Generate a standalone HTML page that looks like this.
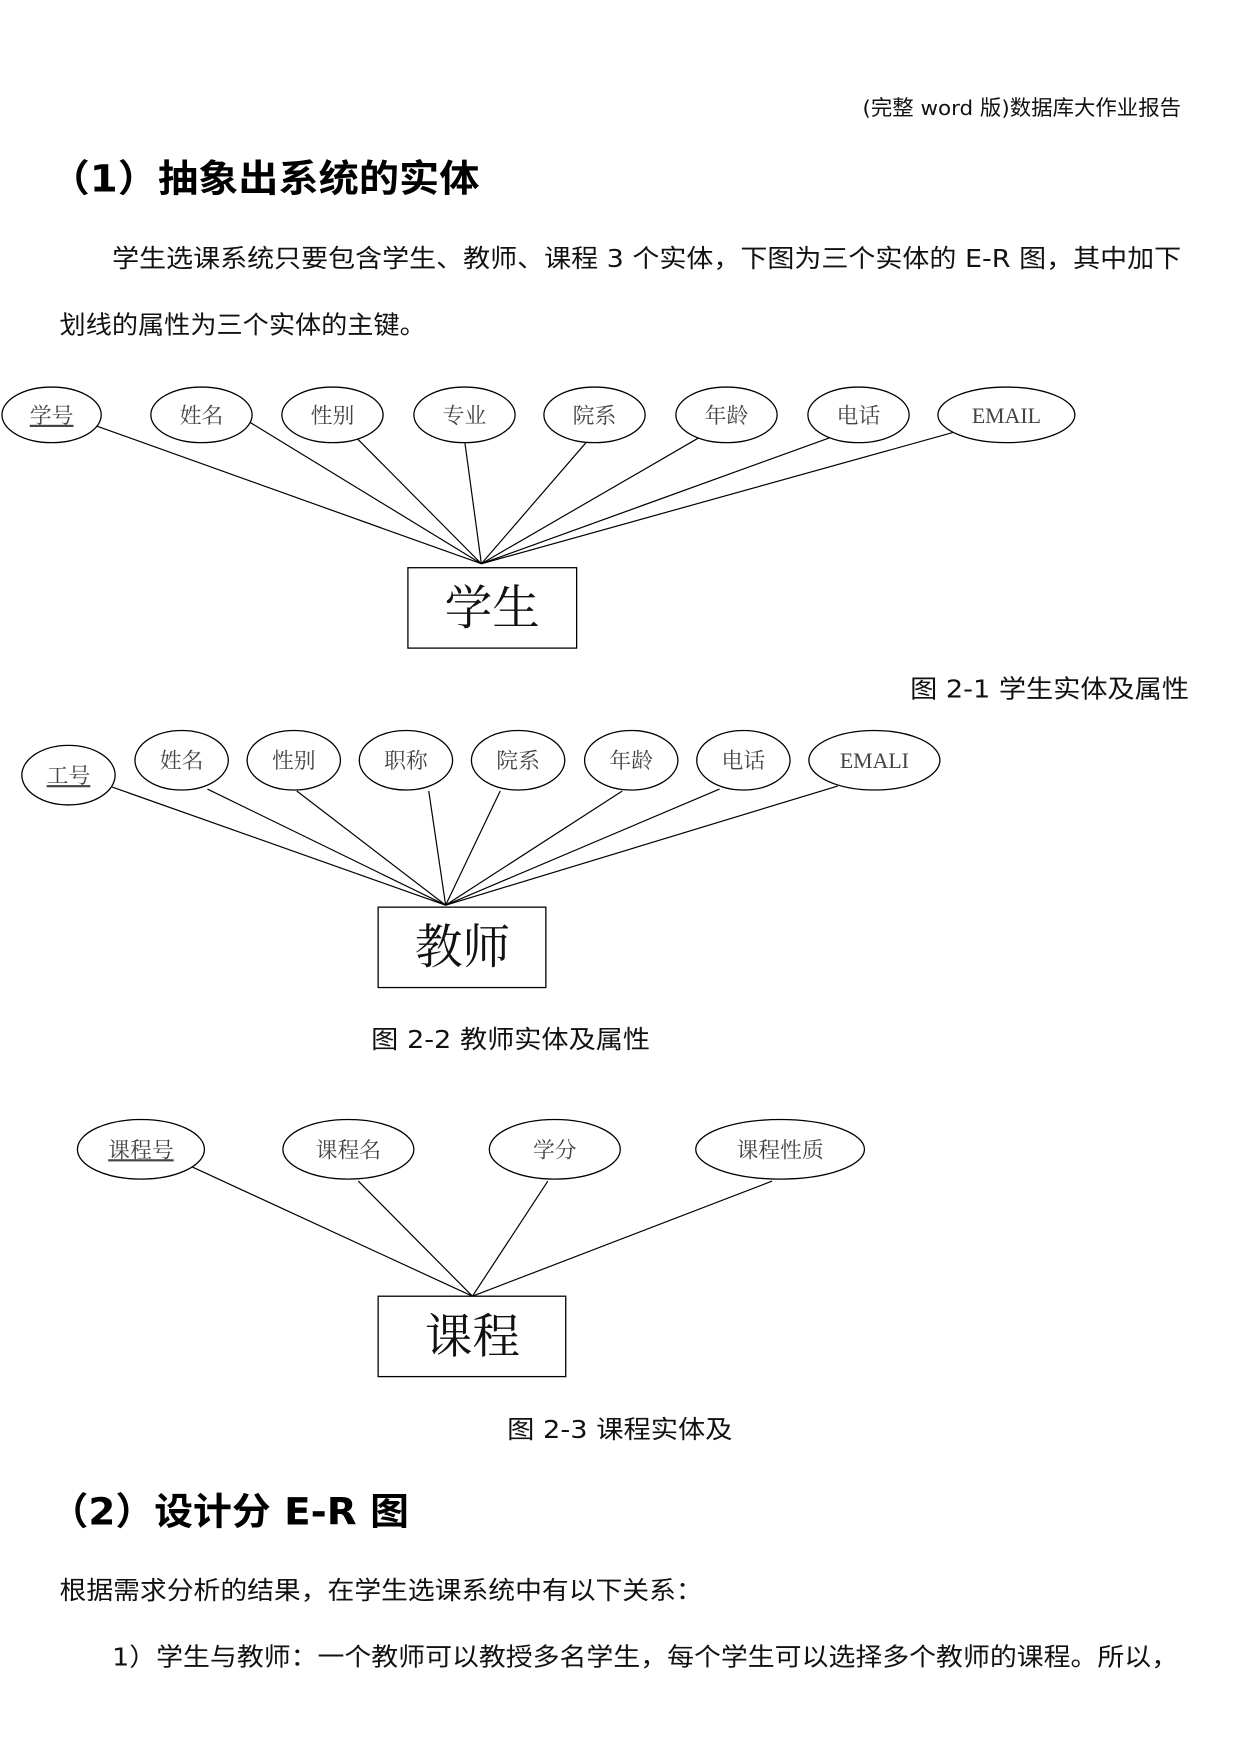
<!DOCTYPE html>
<html><head><meta charset="utf-8"><style>
html,body{margin:0;padding:0;background:#fff;}
svg{display:block;}
.s{font-family:"DejaVu Sans","Noto Sans CJK SC",sans-serif;fill:#111;}
.b{font-family:"DejaVu Sans","Noto Sans CJK SC",sans-serif;font-weight:bold;fill:#000;}
.e{font-family:"Liberation Serif","Noto Serif CJK SC",serif;fill:#444;font-size:22px;text-anchor:middle;}
.box{font-family:"Liberation Serif","Noto Serif CJK SC",serif;fill:#111;font-size:48px;text-anchor:middle;}
ellipse,rect{fill:#fff;stroke:#000;stroke-width:1.3;}
line{stroke:#000;stroke-width:1.2;}
</style></head><body>
<svg width="1241" height="1754" viewBox="0 0 1241 1754" xmlns="http://www.w3.org/2000/svg">
<g transform="scale(0.9925)">
<text class="s" x="869" y="116" font-size="21" textLength="321" lengthAdjust="spacingAndGlyphs">(完整 word 版)数据库大作业报告</text>
<text class="b" x="50" y="193" font-size="38" textLength="433" lengthAdjust="spacingAndGlyphs">（1）抽象出系统的实体</text>
<text class="s" x="113" y="269" font-size="25" textLength="1077" lengthAdjust="spacingAndGlyphs">学生选课系统只要包含学生、教师、课程 3 个实体，下图为三个实体的 E-R 图，其中加下</text>
<text class="s" x="60" y="336" font-size="25" textLength="369" lengthAdjust="spacingAndGlyphs">划线的属性为三个实体的主键。</text>

<g>
<line x1="91" y1="427" x2="485" y2="568"/><line x1="251" y1="425" x2="485" y2="568"/>
<line x1="358" y1="440" x2="485" y2="568"/><line x1="468" y1="443" x2="485" y2="568"/>
<line x1="593" y1="443" x2="485" y2="568"/><line x1="706" y1="440" x2="485" y2="568"/>
<line x1="839" y1="440" x2="485" y2="568"/><line x1="963" y1="435" x2="485" y2="568"/>
<ellipse cx="52" cy="418" rx="50" ry="28"/><ellipse cx="203" cy="418" rx="51" ry="28"/>
<ellipse cx="335" cy="418" rx="51" ry="28"/><ellipse cx="468" cy="418" rx="51" ry="28"/>
<ellipse cx="599" cy="418" rx="51" ry="28"/><ellipse cx="732" cy="418" rx="51" ry="28"/>
<ellipse cx="865" cy="418" rx="51" ry="28"/><ellipse cx="1014" cy="418" rx="69" ry="28"/>
<text class="e" x="52" y="426" text-decoration="underline">学号</text>
<text class="e" x="203" y="426">姓名</text><text class="e" x="335" y="426">性别</text>
<text class="e" x="468" y="426">专业</text><text class="e" x="599" y="426">院系</text>
<text class="e" x="732" y="426">年龄</text><text class="e" x="865" y="426">电话</text>
<text class="e" x="1014" y="426">EMAIL</text>
<rect x="411" y="572" width="170" height="81"/>
<text class="box" x="496" y="629">学生</text>
</g>
<text class="s" x="917" y="703" font-size="25" textLength="281" lengthAdjust="spacingAndGlyphs">图 2-1  学生实体及属性</text>

<g>
<line x1="113" y1="793" x2="449" y2="912"/><line x1="209" y1="795" x2="449" y2="912"/>
<line x1="299" y1="797" x2="449" y2="912"/><line x1="432" y1="797" x2="449" y2="912"/>
<line x1="504" y1="797" x2="449" y2="912"/><line x1="627" y1="797" x2="449" y2="912"/>
<line x1="725" y1="795" x2="449" y2="912"/><line x1="844" y1="792" x2="449" y2="912"/>
<ellipse cx="69" cy="781" rx="47" ry="30"/><ellipse cx="183" cy="766" rx="47" ry="30"/>
<ellipse cx="296" cy="766" rx="47" ry="30"/><ellipse cx="409" cy="766" rx="47" ry="30"/>
<ellipse cx="522" cy="766" rx="47" ry="30"/><ellipse cx="636" cy="766" rx="47" ry="30"/>
<ellipse cx="749" cy="766" rx="47" ry="30"/><ellipse cx="881" cy="766" rx="66" ry="30"/>
<text class="e" x="69" y="789" text-decoration="underline">工号</text>
<text class="e" x="183" y="774">姓名</text><text class="e" x="296" y="774">性别</text>
<text class="e" x="409" y="774">职称</text><text class="e" x="522" y="774">院系</text>
<text class="e" x="636" y="774">年龄</text><text class="e" x="749" y="774">电话</text>
<text class="e" x="881" y="774">EMALI</text>
<rect x="381" y="914" width="169" height="81"/>
<text class="box" x="466" y="971">教师</text>
</g>
<text class="s" x="374" y="1056" font-size="25" textLength="281" lengthAdjust="spacingAndGlyphs">图 2-2  教师实体及属性</text>

<g>
<line x1="192" y1="1175" x2="476" y2="1306"/><line x1="361" y1="1190" x2="476" y2="1306"/>
<line x1="552" y1="1190" x2="476" y2="1306"/><line x1="778" y1="1190" x2="476" y2="1306"/>
<ellipse cx="142" cy="1158" rx="64" ry="30"/><ellipse cx="351" cy="1158" rx="66" ry="30"/>
<ellipse cx="559" cy="1158" rx="66" ry="30"/><ellipse cx="786" cy="1158" rx="85" ry="30"/>
<text class="e" x="142" y="1166" text-decoration="underline">课程号</text>
<text class="e" x="351" y="1166">课程名</text><text class="e" x="559" y="1166">学分</text>
<text class="e" x="786" y="1166">课程性质</text>
<rect x="381" y="1306" width="189" height="81"/>
<text class="box" x="476" y="1363">课程</text>
</g>
<text class="s" x="511" y="1449" font-size="25" textLength="227" lengthAdjust="spacingAndGlyphs">图 2-3  课程实体及</text>

<text class="b" x="50" y="1536" font-size="38" textLength="362" lengthAdjust="spacingAndGlyphs">（2）设计分 E-R 图</text>
<text class="s" x="60" y="1611" font-size="25" textLength="648" lengthAdjust="spacingAndGlyphs">根据需求分析的结果，在学生选课系统中有以下关系：</text>
<text class="s" x="113" y="1678" font-size="25" textLength="1074" lengthAdjust="spacingAndGlyphs">1）学生与教师：一个教师可以教授多名学生，每个学生可以选择多个教师的课程。所以，</text>
</g>
</svg>
</body></html>
